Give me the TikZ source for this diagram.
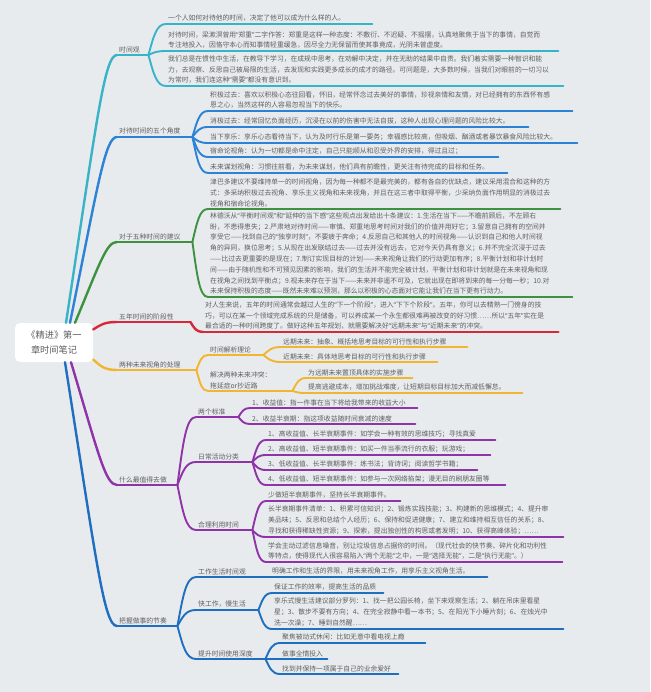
\documentclass[tikz,border=0pt]{standalone}
\usepackage{fontspec}
\newfontfamily\cjk{Noto Sans CJK SC}
\newfontfamily\latf{Noto Sans}
\newcommand\qo{{\latf “}}
\newcommand\qc{{\latf ”}}
\usetikzlibrary{calc}
\definecolor{bgc}{HTML}{E8EBEE}
\definecolor{txtc}{HTML}{5E5E5E}
\definecolor{cteal}{HTML}{38B3C8}
\definecolor{cblue}{HTML}{2B82D6}
\definecolor{cgreen}{HTML}{3E9140}
\definecolor{cred}{HTML}{D62839}
\definecolor{cyel}{HTML}{F2B530}
\definecolor{cpur}{HTML}{8F33A8}
\definecolor{cbluetwo}{HTML}{1F6EBF}
\tikzset{
  leaf/.style={anchor=south west, inner xsep=2pt, inner ysep=2.2pt, align=left, text=txtc, font=\cjk\fontsize{6.8}{10.8}\selectfont},
  rootbox/.style={fill=white, rounded corners=5pt, minimum width=78pt, minimum height=39pt, align=center, text=txtc, inner sep=0pt, font=\cjk\fontsize{9.2}{15.5}\selectfont},
  mainln/.style={line width=2.4pt, line cap=round},
  subln/.style={line width=1.9pt, line cap=round}
}
\newcommand\mmleaf[6]{%
  \pgfmathsetmacro\mmw{#5-#3-4}%
  \node[leaf, text width=\mmw pt] (#1) at (#3,#4) {#6};%
  \draw[#2] (#1.south west) -- (#1.south east);%
}
\newcommand\mmlink[3]{%
  \draw[#1] let \p1=#2, \p2=#3 in (\p1) .. controls ({\x1+0.3*(\x2-\x1)},{\y1+0.6*(\y2-\y1)}) and ({\x1+0.45*(\x2-\x1)},\y2) .. (\p2);%
}
\newcommand\mmmain[3]{%
  \draw[#1] let \p1=#2, \p2=#3 in (\p1) .. controls ({\x1+0.6*(\x2-\x1)},{\y1+0.75*(\y2-\y1)}) and ({\x1+0.75*(\x2-\x1)},\y2) .. (\p2);%
}
\begin{document}
\begin{tikzpicture}[x=1pt,y=-1pt]
\fill[bgc] (0,0) rectangle (650,692);
\useasboundingbox (0,0) rectangle (650,692);

% root
\node[rootbox] (root) at (54,342.5) {《精进》第一\\章时间笔记};

% ---------- 时间观 ----------
\mmleaf{L1}{cteal,mainln}{117}{55}{148}{时间观}
\mmmain{cteal,mainln}{($(root.north)+(12,0)$)}{(L1.south west)}
\mmleaf{t1}{cteal,subln}{166}{24}{372}{一个人如何对待他的时间，决定了他可以成为什么样的人。}
\mmleaf{t2}{cteal,subln}{166}{51}{558}{对待时间，梁漱溟曾用\qo{}郑重\qc{}二字作答：郑重是这样一种态度：不敷衍、不迟疑、不摇摆，认真地聚焦于当下的事情，自觉而\\专注地投入，因恪守本心而知事情轻重缓急，因尽全力无保留而使其事竟成，光阴未曾虚度。}
\mmleaf{t3}{cteal,subln}{166}{86}{563}{我们总是在惯性中生活，在教导下学习，在成规中思考，在劝解中决定，并在无助的结果中自责。我们着实需要一种智识和能\\力，去观察、反思自己被局限的生活，去发现和实践更多成长的成才的路径。可问题是，大多数时候，当我们对眼前的一切习以\\为常时，我们连这种\qo{}需要\qc{}都没有意识到。}
\mmlink{cteal,subln}{(L1.south east)}{(t1.south west)}
\mmlink{cteal,subln}{(L1.south east)}{(t2.south west)}
\mmlink{cteal,subln}{(L1.south east)}{(t3.south west)}

% ---------- 对待时间的五个角度 ----------
\mmleaf{L2}{cblue,mainln}{117}{137}{192}{对待时间的五个角度}
\mmmain{cblue,mainln}{($(root.north)+(16,0)$)}{(L2.south west)}
\mmleaf{b1}{cblue,subln}{208}{111}{572}{积极过去：喜欢以积极心态往回看，怀旧，经常怀念过去美好的事情，珍视亲情和友情，对已经拥有的东西怀有感\\恩之心，当然这样的人容易忽视当下的快乐。}
\mmleaf{b2}{cblue,subln}{208}{127}{528}{消极过去：经常回忆负面经历，沉浸在以前的伤害中无法自拔，这种人出现心理问题的风险比较大。}
\mmleaf{b3}{cblue,subln}{208}{143}{577}{当下享乐：享乐心态看待当下，认为及时行乐是第一要务；幸福感比较高，但吸烟、酗酒或者暴饮暴食风险比较大。}
\mmleaf{b4}{cblue,subln}{208}{157}{498}{宿命论视角：认为一切都是命中注定，自己只能顺从和忍受外界的安排，得过且过；}
\mmleaf{b5}{cblue,subln}{208}{173}{507}{未来谋划视角：习惯往前看，为未来谋划，他们具有前瞻性，更关注有待完成的目标和任务。}
\foreach \k in {b1,b2,b3,b4,b5}{\mmlink{cblue,subln}{(L2.south east)}{(\k.south west)}}

% ---------- 对于五种时间的建议 ----------
\mmleaf{L3}{cgreen,mainln}{117}{242}{192}{对于五种时间的建议}
\mmmain{cgreen,mainln}{($(root.north)+(21,0)$)}{(L3.south west)}
\mmleaf{g1}{cgreen,subln}{208}{209}{560}{津巴多建议不要维持单一的时间视角，因为每一种都不是最完美的，都有各自的优缺点，建议采用混合和这种的方\\式：多采纳积极过去视角、享乐主义视角和未来视角，并且在这三者中取得平衡，少采纳负面作用明显的消极过去\\视角和宿命论视角。}
\mmleaf{g2}{cgreen,subln}{208}{297}{572}{林德沃从\qo{}平衡时间观\qc{}和\qo{}延伸的当下感\qc{}这些观点出发给出十条建议：1.生活在当下——不瞻前顾后，不左顾右\\盼，不患得患失；2.严肃地对待时间——审慎、郑重地思考时间对我们的价值并用好它；3.留意自己拥有的空间并\\享受它——找到自己的\qo{}独享时刻\qc{}，不要疲于奔命；4.反思自己和其他人的时间视角——认识到自己和他人时间视\\角的异同，换位思考；5.从现在出发联结过去——过去并没有远去，它对今天仍具有意义；6.并不完全沉浸于过去\\——比过去更重要的是现在；7.制订实现目标的计划——未来视角让我们的行动更加有序；8.平衡计划和非计划时\\间——由于随机性和不可预见因素的影响，我们的生活并不能完全被计划，平衡计划和非计划就是在未来视角和现\\在视角之间找到平衡点；9.视未来存在于当下——未来并非遥不可及，它就出现在即将到来的每一分每一秒；10.对\\未来保持积极的态度——既然未来难以预测，那么以积极的心态面对它能让我们在当下更有行动力。}
\mmlink{cgreen,subln}{(L3.south east)}{(g1.south west)}
\mmlink{cgreen,subln}{(L3.south east)}{(g2.south west)}

% ---------- 五年时间的阶段性 ----------
\mmleaf{L4}{cred,mainln}{117}{322}{190}{五年时间的阶段性}
\mmlink{cred,mainln}{($(root.east)+(0,-13)$)}{(L4.south west)}
\mmleaf{r1}{cred,mainln}{203}{332}{558}{对人生来说，五年的时间通常会越过人生的\qo{}下一个阶段\qc{}，进入\qo{}下下个阶段\qc{}。五年，你可以去精熟一门傍身的技\\巧，可以在某一个领域完成系统的只是储备，可以养成某一个永生都很难再被改变的好习惯……所以\qo{}五年\qc{}实在是\\最合适的一种时间跨度了。做好这种五年规划，就需要解决好\qo{}远期未来\qc{}与\qo{}近期未来\qc{}的冲突。}
\mmlink{cred,mainln}{(L4.south east)}{(r1.south west)}

% ---------- 两种未来视角的处理 ----------
\mmleaf{L5}{cyel,mainln}{117}{370}{196}{两种未来视角的处理}
\mmlink{cyel,mainln}{($(root.east)+(0,17)$)}{(L5.south west)}
\mmleaf{Y1}{cyel,subln}{208}{355}{263}{时间解析理论}
\mmleaf{Y2}{cyel,subln}{208}{391}{292}{解决两种未来冲突：\\拖延症or抄近路}
\mmlink{cyel,subln}{(L5.south east)}{(Y1.south west)}
\mmlink{cyel,subln}{(L5.south east)}{(Y2.south west)}
\mmleaf{y11}{cyel,subln}{281}{347}{467}{远期未来：抽象、概括地思考目标的可行性和执行步骤}
\mmleaf{y12}{cyel,subln}{281}{362}{437}{近期未来：具体地思考目标的可行性和执行步骤}
\mmlink{cyel,subln}{(Y1.south east)}{(y11.south west)}
\mmlink{cyel,subln}{(Y1.south east)}{(y12.south west)}
\mmleaf{y21}{cyel,subln}{306}{378}{412}{为远期未来置顶具体的实施步骤}
\mmleaf{y22}{cyel,subln}{306}{393}{522}{提高逃避成本，增加挑战难度，让短期目标目标加大而减低懈怠。}
\mmlink{cyel,subln}{(Y2.south east)}{(y21.south west)}
\mmlink{cyel,subln}{(Y2.south east)}{(y22.south west)}

% ---------- 什么最值得去做 ----------
\mmleaf{L6}{cpur,mainln}{117}{485}{177}{什么最值得去做}
\mmmain{cpur,mainln}{($(root.south)+(17,0)$)}{(L6.south west)}
\mmleaf{P1}{cpur,subln}{196}{417}{238}{两个标准}
\mmleaf{P2}{cpur,subln}{196}{462}{252}{日常活动分类}
\mmleaf{P3}{cpur,subln}{196}{530}{252}{合理利用时间}
\foreach \k in {P1,P2,P3}{\mmlink{cpur,subln}{(L6.south east)}{(\k.south west)}}
\mmleaf{p11}{cpur,subln}{250}{408}{417}{1、收益值：指一件事在当下将给我带来的收益大小}
\mmleaf{p12}{cpur,subln}{250}{424}{415}{2、收益半衰期：指这项收益随时间衰减的速度}
\foreach \k in {p11,p12}{\mmlink{cpur,subln}{(P1.south east)}{(\k.south west)}}
\mmleaf{p21}{cpur,subln}{266}{440}{495}{1、高收益值、长半衰期事件：如学会一种有效的思维技巧；寻找真爱}
\mmleaf{p22}{cpur,subln}{266}{455}{490}{2、高收益值、短半衰期事件：如买一件当季流行的衣服；玩游戏；}
\mmleaf{p23}{cpur,subln}{266}{470}{477}{3、低收益值、长半衰期事件：练书法；背诗词；阅读哲学书籍；}
\mmleaf{p24}{cpur,subln}{266}{485}{505}{4、低收益值、短半衰期事件：如参与一次网络掐架；漫无目的刷朋友圈等}
\foreach \k in {p21,p22,p23,p24}{\mmlink{cpur,subln}{(P2.south east)}{(\k.south west)}}
\mmleaf{p31}{cpur,subln}{266}{501}{400}{少做短半衰期事件，坚持长半衰期事件。}
\mmleaf{p32}{cpur,subln}{266}{537}{563}{长半衰期事件清单：1、积累可信知识；2、锻炼实践技能；3、构建新的思维模式；4、提升审\\美品味；5、反思和总结个人经历；6、保持和促进健康；7、建立和维持相互信任的关系；8、\\寻找和获得稀缺性资源；9、探索，提出独创性的构思或者发明；10、获得高峰体验；……}
\mmleaf{p33}{cpur,subln}{266}{562}{562}{学会主动过滤信息噪音，别让垃圾信息占据你的时间。（现代社会的快节奏、碎片化和功利性\\等特点，使得现代人很容易陷入\qo{}两个无能\qc{}之中，一是\qo{}选择无能\qc{}，二是\qo{}执行无能\qc{}。）}
\foreach \k in {p31,p32,p33}{\mmlink{cpur,subln}{(P3.south east)}{(\k.south west)}}

% ---------- 把握做事的节奏 ----------
\mmleaf{L7}{cbluetwo,mainln}{117}{626}{177}{把握做事的节奏}
\mmmain{cbluetwo,mainln}{($(root.south)+(11,0)$)}{(L7.south west)}
\mmleaf{Q1}{cbluetwo,subln}{196}{577}{262}{工作生活时间观}
\mmleaf{Q2}{cbluetwo,subln}{196}{610}{258}{快工作，慢生活}
\mmleaf{Q3}{cbluetwo,subln}{196}{659}{265}{提升时间使用深度}
\foreach \k in {Q1,Q2,Q3}{\mmlink{cbluetwo,subln}{(L7.south east)}{(\k.south west)}}
\mmleaf{q11}{cbluetwo,subln}{270}{577}{487}{明确工作和生活的界限，用未来视角工作，用享乐主义视角生活。}
\draw[cbluetwo,subln] (Q1.south east) -- (q11.south west);
\mmleaf{q21}{cbluetwo,subln}{272}{593}{383}{保证工作的效率，提高生活的品质}
\mmleaf{q22}{cbluetwo,subln}{272}{629}{563}{享乐式慢生活建议部分罗列：1、找一把公园长椅，坐下来观察生活；2、躺在吊床里看星\\星；3、散步不要有方向；4、在完全寂静中看一本书；5、在阳光下小睡片刻；6、在烛光中\\洗一次澡；7、睡到自然醒……}
\foreach \k in {q21,q22}{\mmlink{cbluetwo,subln}{(Q2.south east)}{(\k.south west)}}
\mmleaf{q31}{cbluetwo,subln}{280}{643}{425}{聚焦被动式休闲：比如无意中看电视上瘾}
\mmleaf{q32}{cbluetwo,subln}{280}{659}{327}{做事全情投入}
\mmleaf{q33}{cbluetwo,subln}{280}{674}{398}{找到并保持一项属于自己的业余爱好}
\foreach \k in {q31,q32,q33}{\mmlink{cbluetwo,subln}{(Q3.south east)}{(\k.south west)}}
\end{tikzpicture}
\end{document}
